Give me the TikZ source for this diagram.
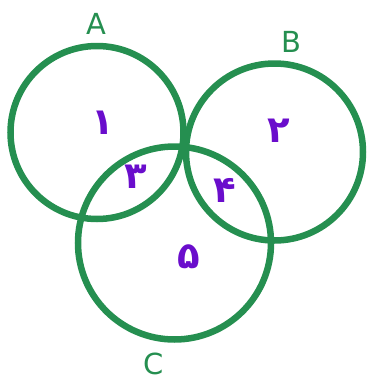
\documentclass[tikz,border=0pt]{standalone}
\usepackage{fontspec}
\setmainfont{DejaVu Sans}
\newfontfamily\arabicfont[Script=Arabic]{DejaVu Sans}
\TeXXeTstate=1
\definecolor{vgreen}{RGB}{37,143,80}
\definecolor{vpurple}{RGB}{106,13,204}
\tikzset{
  setc/.style={draw=vgreen, line width=6.5pt},
  setlabel/.style={text=vgreen, font=\fontsize{29}{29}\selectfont, inner sep=0pt},
  region/.style={text=vpurple, font=\arabicfont\bfseries\fontsize{37}{37}\selectfont, inner sep=0pt}
}
\begin{document}
\begin{tikzpicture}[x=1pt,y=-1pt]
\useasboundingbox (0,0) rectangle (368,381);
\coordinate (cA) at (97,132.5);
\coordinate (cB) at (274.5,152);
\coordinate (cC) at (174.5,243);
\draw[setc] (cA) circle[radius=86.5pt];
\draw[setc] (cB) circle[radius=88.5pt];
\draw[setc] (cC) circle[radius=96.5pt];
\node[setlabel] (lA) at (96,24) {A};
\node[setlabel] (lB) at (291,42) {B};
\node[setlabel] (lC) at (154,364) {C};
\node[region] (r1) at (103,123) {\beginR ۱\endR};
\node[region] (r2) at (279,131) {\beginR ۲\endR};
\node[region] (r3) at (136,177) {\beginR ۳\endR};
\node[region] (r4) at (225,190) {\beginR ۴\endR};
\node[region] (r5) at (189,257) {\beginR ۵\endR};
\end{tikzpicture}
\end{document}
